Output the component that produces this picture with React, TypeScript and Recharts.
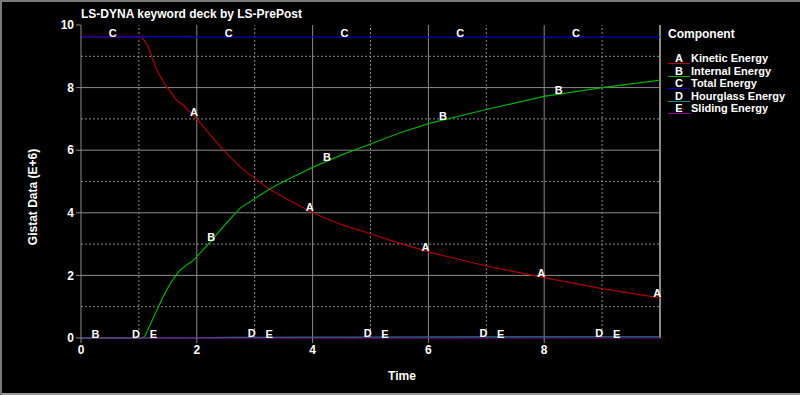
import React from "react";
import {
  ComposedChart,
  Line,
  Scatter,
  XAxis,
  YAxis,
  ReferenceLine,
  Label,
} from "recharts";

// ---------------------------------------------------------------------------
// Data (values in E+6)
// ---------------------------------------------------------------------------

const kineticTime = [0, 1.05, 1.15, 1.3, 1.45, 1.65, 1.8, 2.0, 2.25, 2.5, 2.75, 3.0, 3.25, 3.5, 4.0, 4.5, 5, 5.5, 6, 7, 8, 9, 10];
const kineticEnergy = [9.62, 9.62, 9.35, 8.6, 8.1, 7.6, 7.38, 7.0, 6.45, 5.92, 5.46, 5.1, 4.76, 4.5, 4.0, 3.62, 3.33, 3.03, 2.75, 2.3, 1.93, 1.58, 1.28];

const internalTime = [0, 1.05, 1.1, 1.2, 1.3, 1.4, 1.5, 1.6, 1.7, 1.8, 1.92, 2.0, 2.25, 2.5, 2.75, 3.0, 3.25, 3.5, 4.0, 4.5, 5, 5.5, 6, 7, 8, 9, 10];
const internalEnergy = [0, 0, 0.05, 0.45, 0.85, 1.25, 1.6, 1.9, 2.15, 2.3, 2.45, 2.6, 3.1, 3.65, 4.15, 4.45, 4.75, 5.0, 5.45, 5.85, 6.2, 6.55, 6.85, 7.3, 7.72, 8.0, 8.24];

const totalTime = [0, 1.85, 1.9, 10];
const totalEnergy = [9.63, 9.63, 9.61, 9.61];

const hourglassTime = [0, 1.9, 2.6, 10];
const hourglassEnergy = [0, 0, 0.02, 0.04];

const slidingTime = [0, 10];
const slidingEnergy = [0, 0];

// curve-letter positions along the time axis
const kineticLabelTimes = [1.95, 3.95, 5.95, 7.95, 9.95];
const internalLabelTimes = [0.25, 2.25, 4.25, 6.25, 8.25];
const totalLabelTimes = [0.55, 2.55, 4.55, 6.55, 8.55];
const hourglassLabelTimes = [0.95, 2.95, 4.95, 6.95, 8.95];
const slidingLabelTimes = [1.25, 3.25, 5.25, 7.25, 9.25];

const xTicks = [0, 2, 4, 6, 8];
const yTicks = [0, 2, 4, 6, 8, 10];
const xMajor = [2, 4, 6, 8];
const xMinor = [1, 3, 5, 7, 9];
const yMajor = [2, 4, 6, 8];
const yMinor = [1, 3, 5, 7, 9];

// ---------------------------------------------------------------------------
// Helpers
// ---------------------------------------------------------------------------

type Pt = { t: number; v: number };

function zip(ts: number[], vs: number[]): Pt[] {
  return ts.map((t, i) => ({ t, v: vs[i] }));
}

function valueAt(ts: number[], vs: number[], t: number): number {
  for (let i = 1; i < ts.length; i++) {
    if (t <= ts[i]) {
      const f = (t - ts[i - 1]) / (ts[i] - ts[i - 1]);
      return vs[i - 1] + f * (vs[i] - vs[i - 1]);
    }
  }
  return vs[vs.length - 1];
}

const series = [
  { key: "A", name: "Kinetic Energy", color: "#b00000", ts: kineticTime, vs: kineticEnergy, labels: kineticLabelTimes },
  { key: "B", name: "Internal Energy", color: "#00b000", ts: internalTime, vs: internalEnergy, labels: internalLabelTimes },
  { key: "C", name: "Total Energy", color: "#0000c8", ts: totalTime, vs: totalEnergy, labels: totalLabelTimes },
  { key: "D", name: "Hourglass Energy", color: "#009090", ts: hourglassTime, vs: hourglassEnergy, labels: hourglassLabelTimes },
  { key: "E", name: "Sliding Energy", color: "#a000a0", ts: slidingTime, vs: slidingEnergy, labels: slidingLabelTimes },
];

const FONT = '"Liberation Sans", Arial, sans-serif';
const GRID = "#8a8a8a";

function LetterShape(letter: string) {
  return (props: any) => (
    <text
      x={props.cx}
      y={props.cy}
      textAnchor="middle"
      fill="#ffffff"
      fontFamily={FONT}
      fontWeight="bold"
      fontSize={11}
    >
      {letter}
    </text>
  );
}

// ---------------------------------------------------------------------------
// Chart
// ---------------------------------------------------------------------------

export default function App() {
  return (
    <div
      style={{
        position: "fixed",
        left: 0,
        top: 0,
        width: 800,
        height: 395,
        background: "#000",
        boxShadow: "inset 2px 2px 0 #7a7a7a, inset 0 -2px 0 #9a9a9a",
        fontFamily: FONT,
        overflow: "hidden",
      }}
    >
      <div
        style={{
          position: "absolute",
          left: 81,
          top: 7,
          color: "#fff",
          fontWeight: "bold",
          fontSize: 12,
        }}
      >
        LS-DYNA keyword deck by LS-PrePost
      </div>

      <div style={{ position: "absolute", left: 0, top: 0 }}>
        <ComposedChart
          width={800}
          height={395}
          margin={{ top: 25, right: 140, left: 0, bottom: 0 }}
        >
          <XAxis
            dataKey="t"
            type="number"
            domain={[0, 10]}
            ticks={xTicks}
            height={57}
            tickSize={5}
            tickMargin={2}
            axisLine={false}
            tickLine={{ stroke: GRID }}
            tick={{ fill: "#fff", fontSize: 12, fontWeight: "bold", fontFamily: FONT }}
          >
            <Label
              content={() => (
                <text x={402} y={380} textAnchor="middle" fill="#fff" fontFamily={FONT} fontWeight="bold" fontSize={12}>
                  Time
                </text>
              )}
            />
          </XAxis>
          <YAxis
            type="number"
            domain={[0, 10]}
            ticks={yTicks}
            width={81}
            tickSize={5}
            tickMargin={2}
            axisLine={{ stroke: GRID }}
            tickLine={{ stroke: GRID }}
            tick={{ fill: "#fff", fontSize: 12, fontWeight: "bold", fontFamily: FONT }}
          >
            <Label
              content={() => (
                <text
                  x={37}
                  y={197}
                  transform="rotate(-90 37 197)"
                  textAnchor="middle"
                  fill="#fff"
                  fontFamily={FONT}
                  fontWeight="bold"
                  fontSize={12}
                >
                  Gistat Data (E+6)
                </text>
              )}
            />
          </YAxis>

          {/* grid: dotted minor, solid major */}
          {xMinor.map((v) => (
            <ReferenceLine key={`xm${v}`} x={v} stroke={GRID} strokeDasharray="2 2" />
          ))}
          {yMinor.map((v) => (
            <ReferenceLine key={`ym${v}`} y={v} stroke={GRID} strokeDasharray="2 2" />
          ))}
          {xMajor.map((v) => (
            <ReferenceLine key={`xM${v}`} x={v} stroke={GRID} />
          ))}
          {yMajor.map((v) => (
            <ReferenceLine key={`yM${v}`} y={v} stroke={GRID} />
          ))}
          <ReferenceLine x={10} stroke={GRID} strokeWidth={2} />

          {series.map((s) => (
            <Line
              key={s.key}
              data={zip(s.ts, s.vs)}
              dataKey="v"
              type="linear"
              stroke={s.color}
              strokeWidth={1.2}
              dot={false}
              activeDot={false}
              isAnimationActive={false}
            />
          ))}

          {series.map((s) => (
            <Scatter
              key={`lbl${s.key}`}
              data={s.labels.map((t) => ({ t, v: valueAt(s.ts, s.vs, t) }))}
              dataKey="v"
              shape={LetterShape(s.key)}
              isAnimationActive={false}
            />
          ))}
        </ComposedChart>
      </div>

      {/* legend */}
      <div style={{ position: "absolute", left: 668, top: 27, color: "#fff", fontWeight: "bold" }}>
        <div style={{ fontSize: 12, height: 14, lineHeight: "14px", marginBottom: 11 }}>Component</div>
        {series.map((s) => (
          <div key={s.key} style={{ display: "flex", fontSize: 11, height: 12.6, lineHeight: "12px" }}>
            <span
              style={{
                width: 22,
                textAlign: "center",
                borderBottom: `1px solid ${s.color}`,
                height: 11,
              }}
            >
              {s.key}
            </span>
            <span style={{ marginLeft: 1 }}>{s.name}</span>
          </div>
        ))}
      </div>
    </div>
  );
}
